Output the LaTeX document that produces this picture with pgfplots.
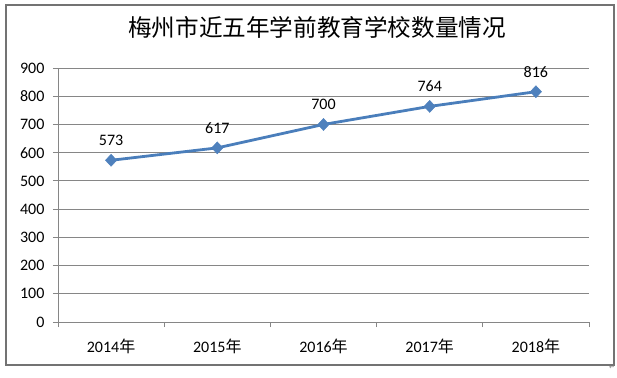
\documentclass[border=0pt]{standalone}
\usepackage{fontspec}
\setmainfont{Carlito}
\newfontfamily\cjk{Noto Sans CJK SC}
\newfontfamily\dejavu{DejaVu Sans}
\usepackage{pgfplots}
\pgfplotsset{compat=1.18}
\definecolor{axgray}{HTML}{868686}
\definecolor{lineblue}{HTML}{4A7EBB}
\definecolor{markblue}{HTML}{4F81BD}
\begin{document}
\begin{tikzpicture}[x=1pt,y=1pt]
\path[use as bounding box] (0,0) rectangle (617,377);
\draw[color=black!55, line width=1.2pt] (6,12) rectangle (614,372);
\node[font=\cjk\fontsize{23.6}{26}\selectfont] at (317,350) {梅州市近五年学前教育学校数量情况};
\node[font=\dejavu\fontsize{7}{8}\selectfont, text=black!50, inner sep=0pt] at (612,10) {↵};
\begin{axis}[
  at={(58pt,55pt)}, anchor=south west,
  scale only axis, width=531pt, height=254pt,
  xmin=-0.5, xmax=4.5, ymin=0, ymax=900,
  xtick={-0.5,0.5,...,4.5},
  x tick label as interval=true,
  xticklabels={2014{\cjk 年},2015{\cjk 年},2016{\cjk 年},2017{\cjk 年},2018{\cjk 年}},
  ytick={0,100,...,900},
  ymajorgrids,
  grid style={axgray, line width=0.8pt},
  axis x line*=bottom, axis y line*=left,
  axis line style={axgray, line width=0.8pt, -},
  tick style={axgray, line width=0.8pt},
  tick align=outside, major tick length=5pt,
  tick label style={font=\fontsize{16}{18}\selectfont, text=black},
  xticklabel style={yshift=-8pt},
  /pgf/number format/assume math mode=true,
  yticklabel style={/pgf/number format/fixed, xshift=-5pt},
  nodes near coords,
  nodes near coords style={font=\fontsize{16}{18}\selectfont, text=black, anchor=south, yshift=11pt},
  clip=false,
]
\addplot[color=lineblue, line width=2.8pt, mark=diamond*, mark size=6pt,
  mark options={fill=markblue, draw=markblue, line width=0.5pt, xscale=1.25}]
  coordinates {(0,573) (1,617) (2,700) (3,764) (4,816)};
\end{axis}
\end{tikzpicture}
\end{document}
